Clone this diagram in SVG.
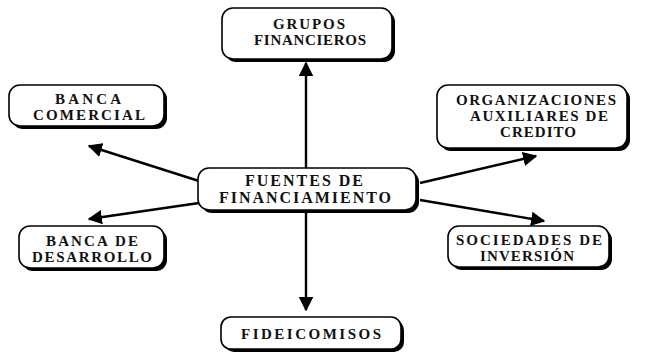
<svg xmlns="http://www.w3.org/2000/svg" width="645" height="354" viewBox="0 0 645 354">
<style>
.sh{fill:#000}
.bx{fill:#fff;stroke:#000;stroke-width:1.6}
text{font-family:"Liberation Serif","Times New Roman",serif;font-weight:bold;font-size:15px;fill:#111;text-anchor:middle}
.cn text{font-size:16px}
.ar{stroke:#000;stroke-width:2.4;fill:none;marker-end:url(#ah)}
</style>
<defs>
<marker id="ah" viewBox="0 0 10 10" refX="9" refY="5" markerWidth="6" markerHeight="6" markerUnits="strokeWidth" orient="auto">
<path d="M0,0 L10,5 L0,10 z" fill="#000"/>
</marker>
</defs>
<g id="connectors">
<line class="ar" x1="306" y1="168" x2="306" y2="63"/>
<line class="ar" x1="306" y1="212" x2="306" y2="310"/>
<line class="ar" x1="199" y1="181" x2="89" y2="146"/>
<line class="ar" x1="420" y1="183" x2="536" y2="156"/>
<line class="ar" x1="199" y1="203" x2="89" y2="219"/>
<line class="ar" x1="420" y1="200" x2="544" y2="221"/>
</g>
<g id="grupos">
<rect class="sh" x="225" y="11" width="170" height="51" rx="11"/>
<rect class="bx" x="222" y="8" width="170" height="51" rx="11"/>
<text x="309" y="29" textLength="72" lengthAdjust="spacing">GRUPOS</text>
<text x="310" y="45" textLength="112" lengthAdjust="spacing">FINANCIEROS</text>
</g>
<g id="banca-comercial">
<rect class="sh" x="12" y="88" width="155" height="41" rx="11"/>
<rect class="bx" x="9" y="85" width="155" height="41" rx="11"/>
<text x="88" y="104" textLength="66" lengthAdjust="spacing">BANCA</text>
<text x="89" y="120" textLength="112" lengthAdjust="spacing">COMERCIAL</text>
</g>
<g id="organizaciones">
<rect class="sh" x="440" y="88" width="190" height="63" rx="11"/>
<rect class="bx" x="437" y="85" width="190" height="63" rx="11"/>
<text x="536" y="105" textLength="160" lengthAdjust="spacing">ORGANIZACIONES</text>
<text x="539" y="121" textLength="138" lengthAdjust="spacing">AUXILIARES DE</text>
<text x="538" y="137" textLength="76" lengthAdjust="spacing">CREDITO</text>
</g>
<g id="fuentes" class="cn">
<rect class="sh" x="201" y="171" width="218" height="42" rx="11"/>
<rect class="bx" x="198" y="168" width="218" height="42" rx="11"/>
<text x="304" y="186" textLength="118" lengthAdjust="spacing">FUENTES DE</text>
<text x="305" y="203" textLength="172" lengthAdjust="spacing">FINANCIAMIENTO</text>
</g>
<g id="banca-desarrollo">
<rect class="sh" x="22" y="229" width="145" height="42" rx="11"/>
<rect class="bx" x="19" y="226" width="145" height="42" rx="11"/>
<text x="92" y="246" textLength="92" lengthAdjust="spacing">BANCA DE</text>
<text x="92" y="262" textLength="120" lengthAdjust="spacing">DESARROLLO</text>
</g>
<g id="sociedades">
<rect class="sh" x="451" y="229" width="161" height="41" rx="11"/>
<rect class="bx" x="448" y="226" width="161" height="41" rx="11"/>
<text x="529" y="245" textLength="146" lengthAdjust="spacing">SOCIEDADES DE</text>
<text x="527" y="261" textLength="94" lengthAdjust="spacing">INVERSIÓN</text>
</g>
<g id="fideicomisos">
<rect class="sh" x="224" y="320" width="180" height="32" rx="10"/>
<rect class="bx" x="221" y="317" width="180" height="32" rx="10"/>
<text x="311" y="339" textLength="140" lengthAdjust="spacing">FIDEICOMISOS</text>
</g>
</svg>
